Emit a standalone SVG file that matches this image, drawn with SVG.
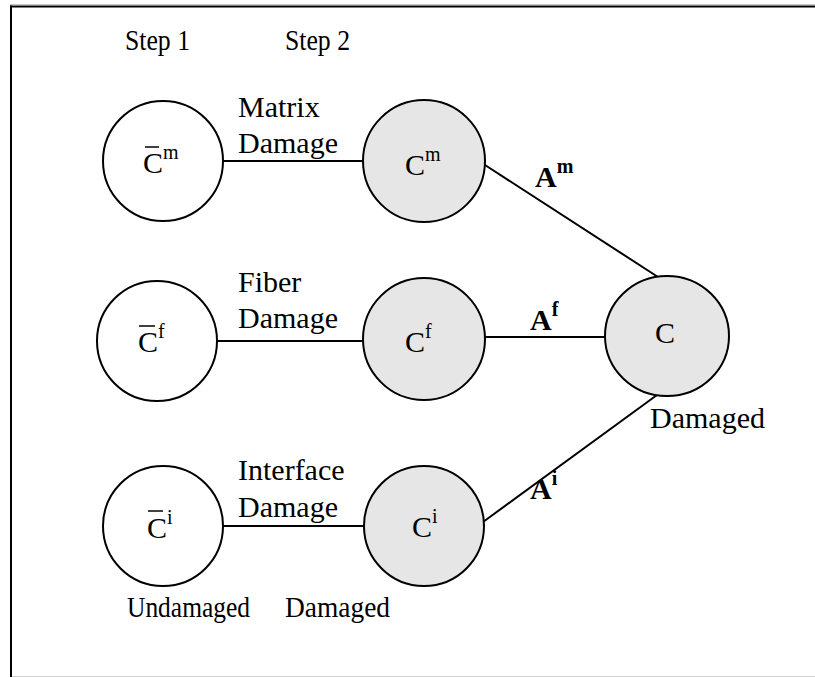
<svg xmlns="http://www.w3.org/2000/svg" width="815" height="677" viewBox="0 0 815 677">
<style>
.t{font-family:"Liberation Serif","Times New Roman",serif;font-size:30px;fill:#000}
.b{font-weight:bold}
.sup{font-size:20px}
.w{fill:#fff;stroke:#000;stroke-width:2}
.g{fill:#e6e6e6;stroke:#000;stroke-width:2}
.c{stroke:#000;stroke-width:2;fill:none}
.bar{stroke:#000;stroke-width:1.5}
</style>
<rect width="815" height="677" fill="#fff"/>
<g id="frame">
<line x1="10" y1="4.5" x2="815" y2="4.5" stroke="#c8c8c8" stroke-width="1"/>
<line x1="10" y1="676.5" x2="815" y2="676.5" stroke="#d0d0d0" stroke-width="1"/>
<line x1="10" y1="6.5" x2="815" y2="6.5" stroke="#000" stroke-width="2"/>
<line x1="11" y1="5.5" x2="11" y2="677" stroke="#000" stroke-width="2"/>
</g>
<g id="connectors">
<line class="c" x1="223" y1="161" x2="364" y2="161"/>
<line class="c" x1="217" y1="341" x2="364" y2="341"/>
<line class="c" x1="224" y1="526" x2="364" y2="526"/>
<line class="c" x1="485" y1="165" x2="658" y2="277"/>
<line class="c" x1="485" y1="337" x2="605" y2="337"/>
<line class="c" x1="483" y1="522" x2="657" y2="395"/>
</g>
<g id="headers">
<text class="t" x="125" y="50" textLength="65" lengthAdjust="spacingAndGlyphs">Step 1</text>
<text class="t" x="285" y="50" textLength="65" lengthAdjust="spacingAndGlyphs">Step 2</text>
<text class="t" x="127" y="617" textLength="123" lengthAdjust="spacingAndGlyphs">Undamaged</text>
<text class="t" x="285" y="617" textLength="105" lengthAdjust="spacingAndGlyphs">Damaged</text>
</g>
<g id="edge-labels">
<text class="t" x="238" y="117">Matrix</text>
<text class="t" x="238" y="153">Damage</text>
<text class="t" x="238" y="292">Fiber</text>
<text class="t" x="238" y="328">Damage</text>
<text class="t" x="238" y="480">Interface</text>
<text class="t" x="238" y="517">Damage</text>
<text class="t b" x="535" y="187">A<tspan class="sup" dy="-14">m</tspan></text>
<text class="t b" x="530" y="330">A<tspan class="sup" dy="-14">f</tspan></text>
<text class="t b" x="530" y="499">A<tspan class="sup" dy="-14">i</tspan></text>
</g>
<g id="node-Cbar-m">
<circle class="w" cx="163" cy="161" r="60"/>
<line class="bar" x1="145" y1="147" x2="159" y2="147"/>
<text class="t" x="143" y="173">C<tspan class="sup" dy="-14">m</tspan></text>
</g>
<g id="node-Cbar-f">
<circle class="w" cx="157" cy="341" r="60"/>
<line class="bar" x1="139" y1="326" x2="155" y2="326"/>
<text class="t" x="138" y="352">C<tspan class="sup" dy="-14">f</tspan></text>
</g>
<g id="node-Cbar-i">
<circle class="w" cx="163" cy="526" r="60"/>
<line class="bar" x1="148" y1="511" x2="163" y2="511"/>
<text class="t" x="147" y="538">C<tspan class="sup" dy="-14">i</tspan></text>
</g>
<g id="node-C-m">
<circle class="g" cx="424" cy="161" r="61"/>
<text class="t" x="405" y="175">C<tspan class="sup" dy="-14">m</tspan></text>
</g>
<g id="node-C-f">
<circle class="g" cx="424" cy="339" r="61"/>
<text class="t" x="405" y="352">C<tspan class="sup" dy="-14">f</tspan></text>
</g>
<g id="node-C-i">
<circle class="g" cx="424" cy="526" r="60"/>
<text class="t" x="412" y="537">C<tspan class="sup" dy="-14">i</tspan></text>
</g>
<g id="node-C">
<ellipse class="g" cx="667" cy="336" rx="62" ry="60"/>
<text class="t" x="655" y="343">C</text>
<text class="t" x="650" y="428">Damaged</text>
</g>
</svg>
